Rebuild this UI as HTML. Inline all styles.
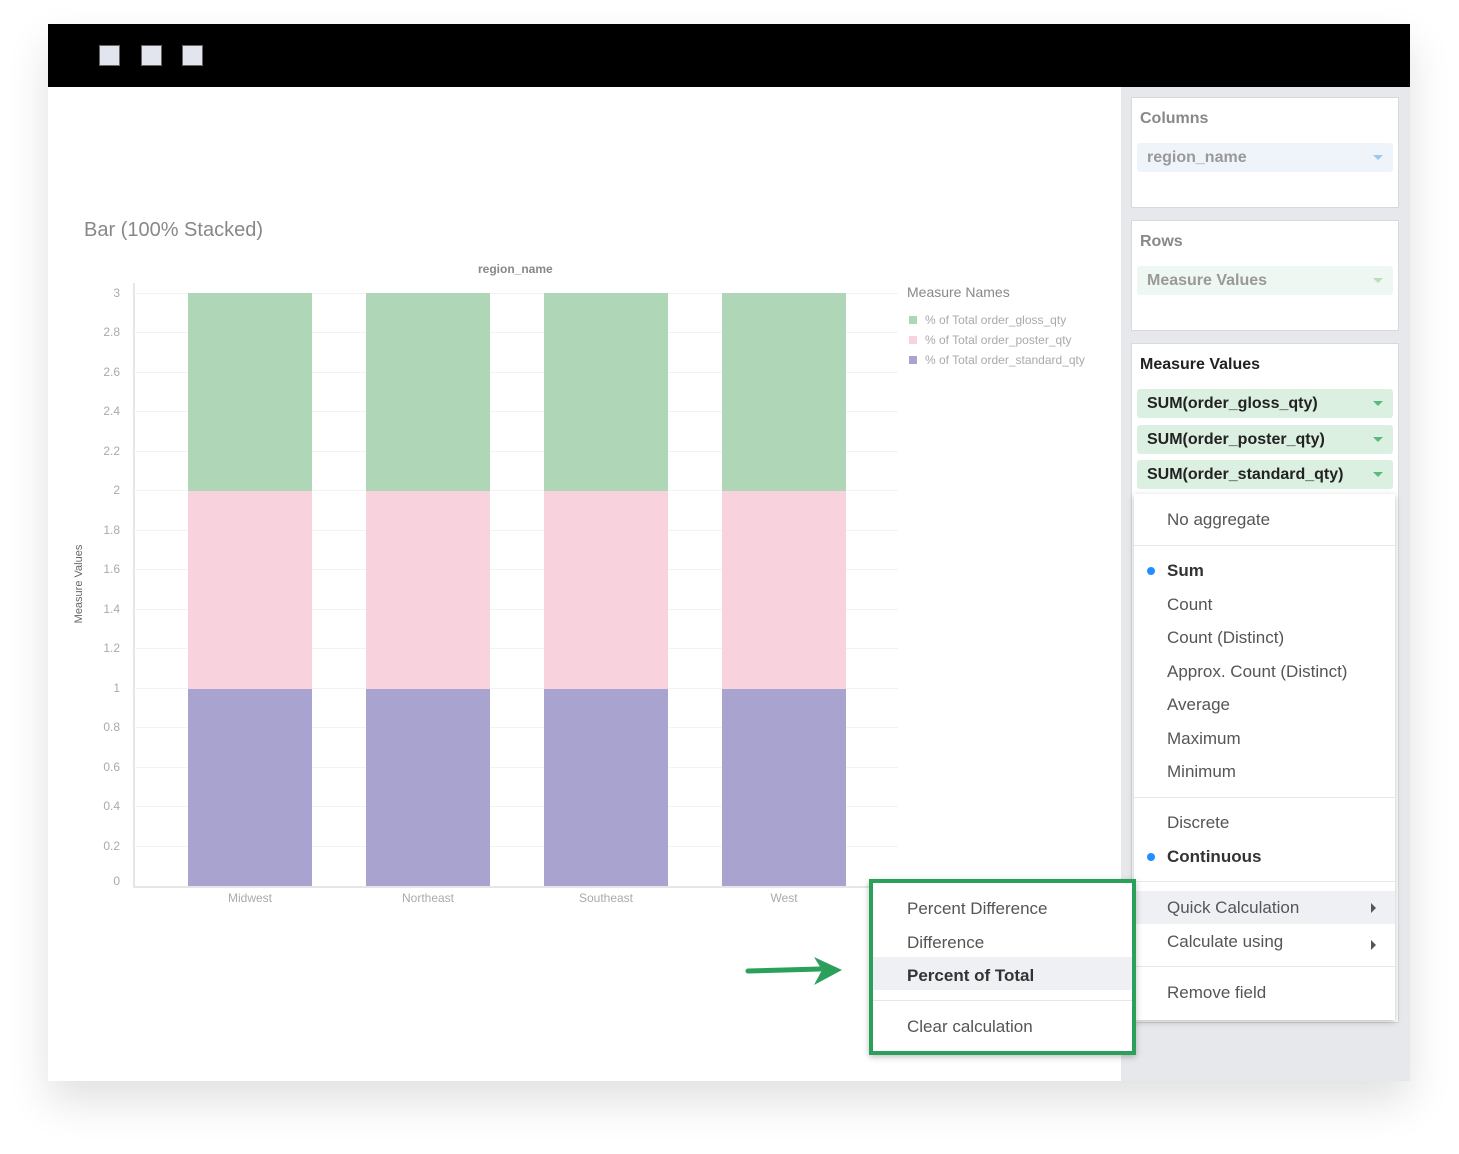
<!DOCTYPE html>
<html><head><meta charset="utf-8"><style>
*{margin:0;padding:0;box-sizing:border-box}
body{width:1459px;height:1154px;background:#fff;position:relative;overflow:hidden;font-family:"Liberation Sans",sans-serif}
.a{position:absolute}
.win{left:48px;top:24px;width:1362px;height:1057px;background:#fff;box-shadow:0 20px 40px rgba(0,0,0,0.12)}
.bar{left:48px;top:24px;width:1362px;height:63px;background:#000}
.sq{top:45px;width:21px;height:21px;background:#e3e5ee;border:1px solid #666}
.side{left:1121px;top:87px;width:289px;height:994px;background:#e7e8ec}
.panel{background:#fff;border:1px solid #d8d9dd}
.ptitle{font-size:16px;color:#888}
.pill{height:29px;border-radius:3px;font-size:16px;padding:7px 10px;line-height:16px;font-weight:bold}
.tri{position:absolute;right:10px;top:12px;width:0;height:0;border-left:5px solid transparent;border-right:5px solid transparent;border-top:5px solid #5cb97a}
.menu{background:#fff;box-shadow:0 2px 6px rgba(0,0,0,0.25)}
.mi{position:absolute;font-size:17px;color:#555}
.sep{position:absolute;height:1px;background:#e5e6ea}
.dot{position:absolute;width:8px;height:8px;border-radius:50%;background:#1e90ff}
</style></head><body>
<div class="a win"></div>
<div class="a bar"></div>
<div class="a sq" style="left:99px"></div>
<div class="a sq" style="left:141px"></div>
<div class="a sq" style="left:182px"></div>

<div class="a" style="left:84px;top:219px;font-size:20px;color:#888">Bar (100% Stacked)</div>
<div class="a" style="left:478px;top:262px;font-size:12px;color:#888;font-weight:bold">region_name</div>
<div class="a" style="left:24px;top:578px;font-size:11px;color:#666;transform:rotate(-90deg);width:110px;text-align:center">Measure Values</div>

<svg class="a" style="left:0;top:0" width="1120" height="1000">
<g stroke="#f3f3f3" stroke-width="1">
<line x1="133" x2="898" y1="293.5" y2="293.5"/><line x1="133" x2="898" y1="332.5" y2="332.5"/><line x1="133" x2="898" y1="372.5" y2="372.5"/><line x1="133" x2="898" y1="411.5" y2="411.5"/><line x1="133" x2="898" y1="451.5" y2="451.5"/><line x1="133" x2="898" y1="490.5" y2="490.5"/><line x1="133" x2="898" y1="530.5" y2="530.5"/><line x1="133" x2="898" y1="569.5" y2="569.5"/><line x1="133" x2="898" y1="609.5" y2="609.5"/><line x1="133" x2="898" y1="648.5" y2="648.5"/><line x1="133" x2="898" y1="688.5" y2="688.5"/><line x1="133" x2="898" y1="727.5" y2="727.5"/><line x1="133" x2="898" y1="767.5" y2="767.5"/><line x1="133" x2="898" y1="806.5" y2="806.5"/><line x1="133" x2="898" y1="846.5" y2="846.5"/>
</g>
<g>
<rect x="188" y="293" width="124" height="198" fill="#afd7b7"/><rect x="188" y="491" width="124" height="198" fill="#f8d3de"/><rect x="188" y="689" width="124" height="197" fill="#a9a3cf"/>
<rect x="366" y="293" width="124" height="198" fill="#afd7b7"/><rect x="366" y="491" width="124" height="198" fill="#f8d3de"/><rect x="366" y="689" width="124" height="197" fill="#a9a3cf"/>
<rect x="544" y="293" width="124" height="198" fill="#afd7b7"/><rect x="544" y="491" width="124" height="198" fill="#f8d3de"/><rect x="544" y="689" width="124" height="197" fill="#a9a3cf"/>
<rect x="722" y="293" width="124" height="198" fill="#afd7b7"/><rect x="722" y="491" width="124" height="198" fill="#f8d3de"/><rect x="722" y="689" width="124" height="197" fill="#a9a3cf"/>
</g>
<line x1="134" x2="134" y1="283" y2="888" stroke="#e6e6e6" stroke-width="2"/>
<line x1="133" x2="898" y1="887" y2="887" stroke="#e6e6e6" stroke-width="2"/>
<g font-family="Liberation Sans" font-size="12" fill="#aaa" text-anchor="middle">
<text x="250" y="902">Midwest</text><text x="428" y="902">Northeast</text><text x="606" y="902">Southeast</text><text x="784" y="902">West</text>
</g>
<g font-family="Liberation Sans" font-size="12" fill="#aaa" text-anchor="end">
<text x="120" y="297">3</text><text x="120" y="336">2.8</text><text x="120" y="376">2.6</text><text x="120" y="415">2.4</text><text x="120" y="455">2.2</text><text x="120" y="494">2</text><text x="120" y="534">1.8</text><text x="120" y="573">1.6</text><text x="120" y="613">1.4</text><text x="120" y="652">1.2</text><text x="120" y="692">1</text><text x="120" y="731">0.8</text><text x="120" y="771">0.6</text><text x="120" y="810">0.4</text><text x="120" y="850">0.2</text><text x="120" y="885">0</text>
</g>
<text x="907" y="297" font-family="Liberation Sans" font-size="14" fill="#888">Measure Names</text>
<rect x="909" y="316" width="8" height="8" fill="#afd7b7"/><rect x="909" y="336" width="8" height="8" fill="#f8d3de"/><rect x="909" y="356" width="8" height="8" fill="#a9a3cf"/>
<g font-family="Liberation Sans" font-size="12" fill="#aaa">
<text x="925" y="324">% of Total order_gloss_qty</text><text x="925" y="344">% of Total order_poster_qty</text><text x="925" y="364">% of Total order_standard_qty</text>
</g>
<line x1="748" y1="971" x2="820" y2="969" stroke="#2aa05a" stroke-width="5" stroke-linecap="round"/>
<polygon points="814,957 842,970 814,985 822,970" fill="#2aa05a"/>
</svg>

<div class="a side"></div>
<div class="a panel" style="left:1131px;top:97px;width:268px;height:111px">
 <div class="a ptitle" style="left:8px;top:12px;font-weight:bold">Columns</div>
 <div class="a pill" style="left:5px;top:45px;width:256px;background:#eef4fa;color:#999">region_name<div class="tri" style="border-top-color:#9cc7f0"></div></div>
</div>
<div class="a panel" style="left:1131px;top:220px;width:268px;height:111px">
 <div class="a ptitle" style="left:8px;top:12px;font-weight:bold">Rows</div>
 <div class="a pill" style="left:5px;top:45px;width:256px;background:#eef7f1;color:#999">Measure Values<div class="tri" style="border-top-color:#b5dfc0"></div></div>
</div>
<div class="a panel" style="left:1131px;top:343px;width:268px;height:680px">
 <div class="a" style="left:8px;top:12px;font-size:16px;font-weight:bold;color:#222">Measure Values</div>
 <div class="a pill" style="left:5px;top:45px;width:256px;background:#dcf0e2;color:#222">SUM(order_gloss_qty)<div class="tri"></div></div>
 <div class="a pill" style="left:5px;top:81px;width:256px;background:#dcf0e2;color:#222">SUM(order_poster_qty)<div class="tri"></div></div>
 <div class="a pill" style="left:5px;top:116px;width:256px;background:#dcf0e2;color:#222">SUM(order_standard_qty)<div class="tri"></div></div>
</div>

<div class="a menu" style="left:1134px;top:494px;width:261px;height:526px">
 <div class="mi" style="left:33px;top:16px">No aggregate</div>
 <div class="sep" style="left:0;top:51px;width:261px"></div>
 <div class="dot" style="left:13px;top:73px"></div>
 <div class="mi" style="left:33px;top:67px;font-weight:bold;color:#333">Sum</div>
 <div class="mi" style="left:33px;top:101px">Count</div>
 <div class="mi" style="left:33px;top:134px">Count (Distinct)</div>
 <div class="mi" style="left:33px;top:168px">Approx. Count (Distinct)</div>
 <div class="mi" style="left:33px;top:201px">Average</div>
 <div class="mi" style="left:33px;top:235px">Maximum</div>
 <div class="mi" style="left:33px;top:268px">Minimum</div>
 <div class="sep" style="left:0;top:303px;width:261px"></div>
 <div class="mi" style="left:33px;top:319px">Discrete</div>
 <div class="dot" style="left:13px;top:359px"></div>
 <div class="mi" style="left:33px;top:353px;font-weight:bold;color:#333">Continuous</div>
 <div class="sep" style="left:0;top:387px;width:261px"></div>
 <div class="a" style="left:0;top:397px;width:261px;height:33px;background:#eff0f4"></div>
 <div class="mi" style="left:33px;top:404px">Quick Calculation</div>
 <div class="a" style="left:237px;top:409px;border-top:5px solid transparent;border-bottom:5px solid transparent;border-left:5px solid #555"></div>
 <div class="mi" style="left:33px;top:438px">Calculate using</div>
 <div class="a" style="left:237px;top:446px;border-top:5px solid transparent;border-bottom:5px solid transparent;border-left:5px solid #555"></div>
 <div class="sep" style="left:0;top:472px;width:261px"></div>
 <div class="mi" style="left:33px;top:489px">Remove field</div>
</div>

<div class="a menu" style="left:869px;top:879px;width:267px;height:176px;border:4px solid #2aa05a">
 <div class="mi" style="left:34px;top:16px">Percent Difference</div>
 <div class="mi" style="left:34px;top:50px">Difference</div>
 <div class="a" style="left:0;top:74px;width:259px;height:33px;background:#eff0f4"></div>
 <div class="mi" style="left:34px;top:83px;font-weight:bold;color:#333">Percent of Total</div>
 <div class="sep" style="left:0;top:117px;width:259px"></div>
 <div class="mi" style="left:34px;top:134px">Clear calculation</div>
</div>
</body></html>
